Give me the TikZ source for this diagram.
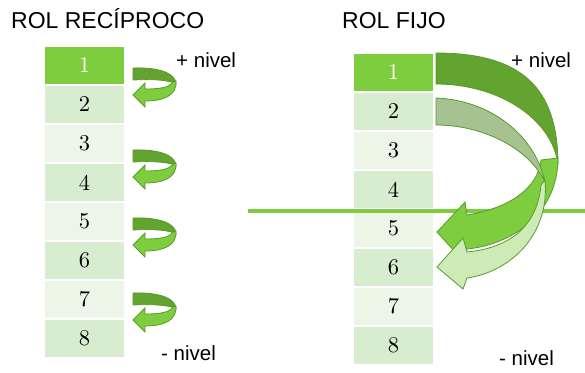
\documentclass[tikz,border=0pt]{standalone}
\usepackage{fontspec}
\setsansfont{Liberation Sans}
\newfontfamily\cellfont{lmroman10-regular.otf}
\definecolor{leaf}{HTML}{7DCD3F}
\definecolor{moss}{HTML}{63A32F}
\definecolor{rim}{HTML}{5A9A2B}
\definecolor{sage}{HTML}{A6C290}
\definecolor{mint}{HTML}{CDEBB6}
\definecolor{rowA}{HTML}{D8ECCF}
\definecolor{rowB}{HTML}{ECF5E7}
\tikzset{turnarrow/.pic={
  \filldraw[moss,draw=rim,line width=.8pt] (0,0) .. controls (25,-1) and (43,5) .. (43,16) .. controls (37,12) and (20,11) .. (0,12) -- cycle;
  \filldraw[leaf,draw=rim,line width=.8pt] (43,13) .. controls (44,28) and (30,33) .. (12,33) -- (12,39) -- (0,27) -- (12,15) -- (12,21) .. controls (25,21) and (36,20) .. (40,14) -- cycle;
}}
\begin{document}
\begin{tikzpicture}[x=1pt, y=-1pt,
    cell/.style={minimum width=79pt, minimum height=37pt, inner sep=0pt, font=\cellfont\fontsize{22.5}{26}\selectfont},
    heading/.style={font=\sffamily\fontsize{23}{27}\selectfont, anchor=base west, inner sep=0pt},
    lvl/.style={font=\sffamily\fontsize{20.5}{24}\selectfont, anchor=base west, inner sep=0pt},
    ribbon/.style={draw=rim, line width=.8pt}]
    \useasboundingbox (0,0) rectangle (585,372);
    \node[heading] (titleL) at (11,28) {ROL RECÍPROCO};
    \node[heading] (titleR) at (342,28) {ROL FIJO};
    \foreach \i/\c/\t in {1/leaf/white,2/rowA/black,3/rowB/black,4/rowA/black,5/rowB/black,6/rowA/black,7/rowB/black,8/rowA/black}{
        \node[cell, fill=\c, text=\t] (L\i) at (84.5,26.5+39*\i) {\i};
        \node[cell, fill=\c, text=\t] (R\i) at (393.5,33.5+39*\i) {\i};
    }
    \node[lvl] (upL) at (176,67) {+ nivel};
    \node[lvl] (downL) at (161,360) {- nivel};
    \node[lvl] (upR) at (511,67) {+ nivel};
    \node[lvl] (downR) at (499,365) {- nivel};
    \foreach \y in {68,150,218,293}
        \pic at (133,\y) {turnarrow};
    \draw[leaf, line width=3.5pt] (248,211) -- (585,211);
    % cambio fijo
    \filldraw[moss, ribbon] (436,53) .. controls (521,53) and (558,87) .. (558,165) .. controls (553,120) and (500,84) .. (436,84) -- cycle;
    \filldraw[leaf, ribbon] (558,158) .. controls (558,215) and (510,245) .. (467,249) -- (464,262) -- (437,232) -- (465,202) -- (467,215) .. controls (510,208) and (538,188) .. (541,160) -- cycle;
    \filldraw[sage, ribbon] (436,98) .. controls (490,100) and (535,135) .. (545,182) .. controls (530,150) and (485,125) .. (436,125) -- cycle;
    \filldraw[mint, ribbon] (545,180) .. controls (550,235) and (510,272) .. (467,278) -- (463,289) -- (437,267) -- (463,238) -- (467,252) .. controls (508,248) and (537,228) .. (541,185) -- cycle;
\end{tikzpicture}
\end{document}
